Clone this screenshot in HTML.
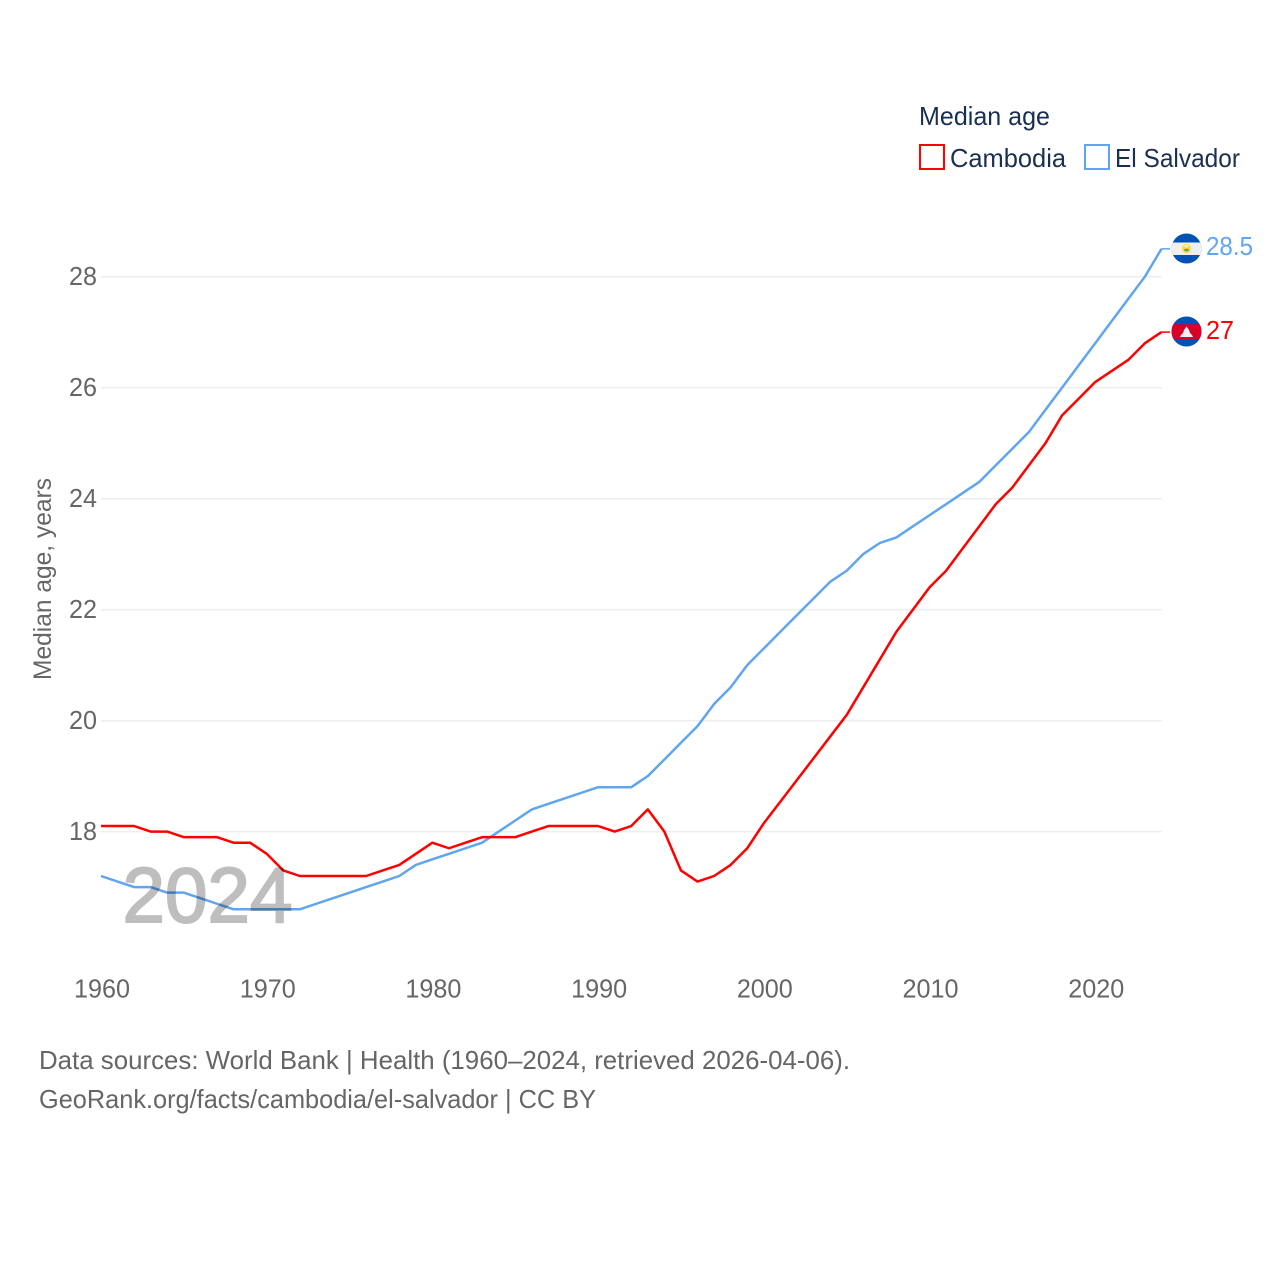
<!DOCTYPE html>
<html>
<head>
<meta charset="utf-8">
<title>Median age: Cambodia and El Salvador</title>
<style>
html,body{margin:0;padding:0;background:#fff;width:1280px;height:1280px;overflow:hidden}
svg{display:block}
text{font-family:"Liberation Sans",sans-serif}
</style>
</head>
<body>
<svg id="chart" width="1280" height="1280" viewBox="0 0 1280 1280" xmlns="http://www.w3.org/2000/svg">
<defs>
<clipPath id="clip-sv"><circle cx="1186.5" cy="248.5" r="15"/></clipPath>
<clipPath id="clip-kh"><circle cx="1186.5" cy="331.5" r="15"/></clipPath>
</defs>
<rect width="1280" height="1280" fill="#fff"/>
<g id="grid"></g>
<g id="yticks"></g>
<g id="xticks"></g>
<g id="series"></g>
<text x="122.5" y="922" font-size="78" textLength="170" lengthAdjust="spacingAndGlyphs" fill="#000" stroke="#000" stroke-width="2" opacity="0.25">2024</text>
<text transform="translate(51,680) rotate(-90)" font-size="25" fill="#666" textLength="202" lengthAdjust="spacingAndGlyphs">Median age, years</text>

<text x="919" y="125" font-size="26" fill="#1a3050" textLength="131" lengthAdjust="spacingAndGlyphs">Median age</text>
<g>
<rect x="920" y="145" width="24" height="24" fill="#fff" stroke="#ff0000" stroke-width="2"/>
<text x="950" y="167" font-size="26" fill="#1a3050" textLength="116" lengthAdjust="spacingAndGlyphs">Cambodia</text>
</g>
<g>
<rect x="1085" y="145" width="24" height="24" fill="#fff" stroke="#60a5ef" stroke-width="2"/>
<text x="1115" y="167" font-size="26" fill="#1a3050" textLength="125" lengthAdjust="spacingAndGlyphs">El Salvador</text>
</g>

<g clip-path="url(#clip-sv)">
<rect x="1171" y="233" width="31" height="31" fill="#0052b4"/>
<rect x="1171" y="242.5" width="31" height="12.5" fill="#f0f0f0"/>
<circle cx="1186.5" cy="248.5" r="4.6" fill="#ffda44"/>
<polygon points="1184,245 1189,245 1186.5,248" fill="#f0f0f0"/>
<ellipse cx="1186.5" cy="250" rx="2.4" ry="1.4" fill="#6da544"/>
</g>
<g clip-path="url(#clip-kh)">
<rect x="1171" y="316" width="31" height="31" fill="#0052b4"/>
<rect x="1171" y="324.3" width="31" height="15" fill="#d80027"/>
<polygon points="1180,337 1181,335 1183,333 1184,330 1186.5,326.5 1189,330 1190,333 1192,335 1193,337" fill="#f0f0f0"/>
</g>
<text x="1206" y="255" font-size="26" fill="#60a5ef" textLength="47" lengthAdjust="spacingAndGlyphs">28.5</text>
<text x="1206" y="339" font-size="26" fill="#ff0000" textLength="28" lengthAdjust="spacingAndGlyphs">27</text>

<text x="39" y="1069" font-size="26" fill="#666" textLength="811" lengthAdjust="spacingAndGlyphs">Data sources: World Bank | Health (1960–2024, retrieved 2026-04-06).</text>
<text x="39" y="1108" font-size="26" fill="#666" textLength="557" lengthAdjust="spacingAndGlyphs">GeoRank.org/facts/cambodia/el-salvador | CC BY</text>
</svg>
<script>
const years = [1960,1961,1962,1963,1964,1965,1966,1967,1968,1969,1970,1971,1972,1973,1974,1975,1976,1977,1978,1979,1980,1981,1982,1983,1984,1985,1986,1987,1988,1989,1990,1991,1992,1993,1994,1995,1996,1997,1998,1999,2000,2001,2002,2003,2004,2005,2006,2007,2008,2009,2010,2011,2012,2013,2014,2015,2016,2017,2018,2019,2020,2021,2022,2023,2024];
const cambodia = [18.1,18.1,18.1,18.0,18.0,17.9,17.9,17.9,17.8,17.8,17.6,17.3,17.2,17.2,17.2,17.2,17.2,17.3,17.4,17.6,17.8,17.7,17.8,17.9,17.9,17.9,18.0,18.1,18.1,18.1,18.1,18.0,18.1,18.4,18.0,17.3,17.1,17.2,17.4,17.7,18.15,18.54,18.93,19.32,19.71,20.1,20.6,21.1,21.6,22.0,22.4,22.7,23.1,23.5,23.9,24.2,24.6,25.0,25.5,25.8,26.1,26.3,26.5,26.8,27.0];
const elSalvador = [17.2,17.1,17.0,17.0,16.9,16.9,16.8,16.7,16.6,16.6,16.6,16.6,16.6,16.7,16.8,16.9,17.0,17.1,17.2,17.4,17.5,17.6,17.7,17.8,18.0,18.2,18.4,18.5,18.6,18.7,18.8,18.8,18.8,19.0,19.3,19.6,19.9,20.3,20.6,21.0,21.3,21.6,21.9,22.2,22.5,22.7,23.0,23.2,23.3,23.5,23.7,23.9,24.1,24.3,24.6,24.9,25.2,25.6,26.0,26.4,26.8,27.2,27.6,28.0,28.5];
const yTickValues = [18,20,22,24,26,28];
const xTickValues = [1960,1970,1980,1990,2000,2010,2020];

const NS = 'http://www.w3.org/2000/svg';
function xScale(year){ return 101 + (year - 1960) * (1161.5 - 101) / 64; }
function yScale(v){ return 831.6 - (v - 18) * 55.5; }

const grid = document.getElementById('grid');
const yticks = document.getElementById('yticks');
yTickValues.forEach(function(t){
  const line = document.createElementNS(NS,'line');
  
  
  line.setAttribute('x1', 101);
  line.setAttribute('x2', 1162);
  line.setAttribute('y1', yScale(t));
  line.setAttribute('y2', yScale(t));
  line.setAttribute('stroke', '#eeeeee');
  line.setAttribute('stroke-width', '1.5');
  grid.appendChild(line);
  const label = document.createElementNS(NS,'text');
  
  
  label.setAttribute('x', 97);
  label.setAttribute('y', yScale(t) + 8.4);
  label.setAttribute('text-anchor', 'end');
  label.setAttribute('font-size', '26');
  label.setAttribute('textLength', '28');
  label.setAttribute('lengthAdjust', 'spacingAndGlyphs');
  label.setAttribute('fill', '#666');
  label.textContent = t;
  yticks.appendChild(label);
});

const xticks = document.getElementById('xticks');
xTickValues.forEach(function(t){
  const label = document.createElementNS(NS,'text');
  
  
  label.setAttribute('x', xScale(t) + 1);
  label.setAttribute('y', 997.5);
  label.setAttribute('text-anchor', 'middle');
  label.setAttribute('font-size', '26');
  label.setAttribute('textLength', '56');
  label.setAttribute('lengthAdjust', 'spacingAndGlyphs');
  label.setAttribute('fill', '#666');
  label.textContent = t;
  xticks.appendChild(label);
});

function drawSeries(values, color, name){
  const g = document.getElementById('series');
  const path = document.createElementNS(NS,'path');
  const pts = values.map(function(v,i){ return xScale(years[i]).toFixed(2) + ',' + yScale(v).toFixed(2); });
  
  
  path.setAttribute('d', 'M' + pts.join('L'));
  path.setAttribute('fill', 'none');
  path.setAttribute('stroke', color);
  path.setAttribute('stroke-width', '2.5');
  path.setAttribute('stroke-linejoin', 'round');
  g.appendChild(path);
  const last = values[values.length - 1];
  const conn = document.createElementNS(NS,'line');
  
  
  conn.setAttribute('x1', xScale(years[years.length - 1]));
  conn.setAttribute('x2', 1170);
  conn.setAttribute('y1', yScale(last));
  conn.setAttribute('y2', yScale(last));
  conn.setAttribute('stroke', color);
  conn.setAttribute('stroke-width', '1.5');
  g.appendChild(conn);
}
drawSeries(elSalvador, '#60a5ef', 'el-salvador');
drawSeries(cambodia, '#ff0000', 'cambodia');
</script>
</body>
</html>
